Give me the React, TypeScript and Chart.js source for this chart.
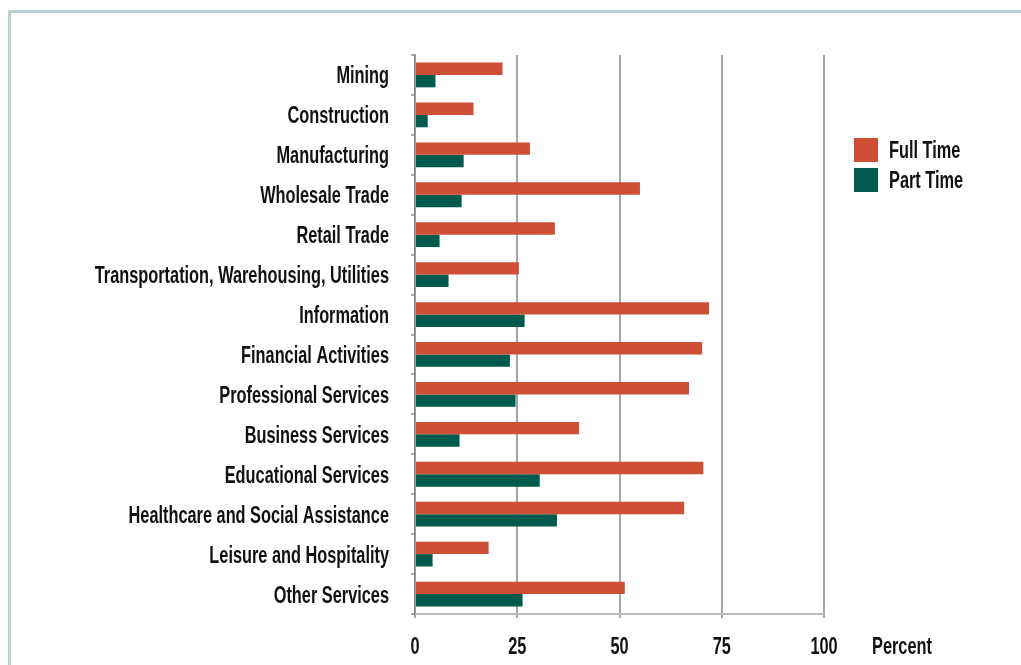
import React, { useEffect, useRef } from "react";
import { Chart, registerables } from "chart.js";

Chart.register(...registerables);

const categories = [
  "Mining",
  "Construction",
  "Manufacturing",
  "Wholesale Trade",
  "Retail Trade",
  "Transportation, Warehousing, Utilities",
  "Information",
  "Financial Activities",
  "Professional Services",
  "Business Services",
  "Educational Services",
  "Healthcare and Social Assistance",
  "Leisure and Hospitality",
  "Other Services",
];

const fullTime = [21.4, 14.3, 28.1, 55.0, 34.2, 25.4, 71.9, 70.2, 67.0, 40.1, 70.5, 65.8, 18.0, 51.3];
const partTime = [5.0, 3.1, 11.9, 11.4, 6.0, 8.2, 26.8, 23.2, 24.6, 10.9, 30.5, 34.7, 4.3, 26.3];

const seriesNames = ["Full Time", "Part Time"];
const seriesColors = ["#cf4e36", "#005a4e"];
const xTickValues = [0, 25, 50, 75, 100];
const unitLabel = "Percent";

const FONT_FAMILY = '"Liberation Sans", Arial, sans-serif';
const FONT_SIZE = 23;
const SCALE_X = 0.71; // condensed look
const TEXT_COLOR = "#111111";

function drawCondensed(ctx: CanvasRenderingContext2D, text: string, x: number, y: number, align: CanvasTextAlign) {
  ctx.save();
  ctx.translate(x, y);
  ctx.scale(SCALE_X, 1);
  ctx.textAlign = align;
  ctx.textBaseline = "alphabetic";
  ctx.fillText(text, 0, 0);
  ctx.restore();
}

export default function App() {
  const canvasRef = useRef<HTMLCanvasElement | null>(null);

  useEffect(() => {
    const canvas = canvasRef.current;
    if (!canvas) return;

    const textPlugin = {
      id: "condensedText",
      afterDraw(chart: any) {
        const ctx: CanvasRenderingContext2D = chart.ctx;
        const area = chart.chartArea;
        const xs = chart.scales.x;
        const ys = chart.scales.y;
        ctx.save();
        ctx.font = `bold ${FONT_SIZE}px ${FONT_FAMILY}`;
        ctx.fillStyle = TEXT_COLOR;

        // category labels
        categories.forEach((label, i) => {
          const y = ys.getPixelForValue(i);
          drawCondensed(ctx, label, ys.right - 26, y + 8.5, "right");
        });

        // value tick labels
        xTickValues.forEach((v) => {
          drawCondensed(ctx, String(v), xs.getPixelForValue(v), xs.top + 39.5, "center");
        });

        // unit label
        drawCondensed(ctx, unitLabel, xs.right + 48, xs.top + 39.5, "left");

        // legend
        const lx = area.right + 30;
        const ly = area.top + 83;
        seriesNames.forEach((name, i) => {
          const y = ly + i * 30;
          ctx.fillStyle = seriesColors[i];
          ctx.fillRect(lx, y, 24, 24);
          ctx.fillStyle = TEXT_COLOR;
          drawCondensed(ctx, name, lx + 35, y + 12 + 7.8, "left");
        });
        ctx.restore();
      },
    };

    const chart = new Chart(canvas, {
      type: "bar",
      data: {
        labels: categories,
        datasets: [
          {
            label: seriesNames[0],
            data: fullTime,
            backgroundColor: seriesColors[0],
            borderWidth: 0,
            categoryPercentage: 0.62,
            barPercentage: 1.0,
          },
          {
            label: seriesNames[1],
            data: partTime,
            backgroundColor: seriesColors[1],
            borderWidth: 0,
            categoryPercentage: 0.62,
            barPercentage: 1.0,
          },
        ],
      },
      options: {
        indexAxis: "y",
        responsive: false,
        animation: false,
        devicePixelRatio: 1,
        layout: { padding: { left: 0, top: 55, right: 197, bottom: 0 } },
        plugins: {
          legend: { display: false },
          tooltip: { enabled: false },
        },
        scales: {
          x: {
            type: "linear",
            min: 0,
            max: 100,
            afterBuildTicks: (scale: any) => {
              scale.ticks = xTickValues.map((v) => ({ value: v }));
            },
            afterFit: (scale: any) => {
              scale.height = 51;
            },
            ticks: { display: false },
            grid: {
              color: "#a6a6a6",
              lineWidth: 2,
              drawTicks: true,
              tickLength: 4,
            },
            border: { display: true, color: "#bbbbbb", width: 2 },
          },
          y: {
            type: "category",
            afterFit: (scale: any) => {
              scale.width = 415;
            },
            ticks: { display: false, autoSkip: false },
            grid: {
              offset: true,
              drawOnChartArea: false,
              drawTicks: true,
              tickLength: 4,
              color: "#aaaaaa",
              lineWidth: 2,
            },
            border: { display: true, color: "#888888", width: 1.5 },
          },
        },
      },
      plugins: [textPlugin],
    } as any);

    return () => {
      chart.destroy();
    };
  }, []);

  return (
    <div style={{ position: "fixed", left: 0, top: 0, width: 1021, height: 665, overflow: "hidden", background: "#ffffff" }}>
      <div
        style={{
          position: "absolute",
          left: 8,
          top: 10,
          width: 1100,
          height: 800,
          border: "3px solid #b9d3d3",
          boxSizing: "border-box",
        }}
      />
      <canvas
        ref={canvasRef}
        width={1021}
        height={665}
        style={{ position: "absolute", left: 0, top: 0, width: 1021, height: 665 }}
      />
    </div>
  );
}
